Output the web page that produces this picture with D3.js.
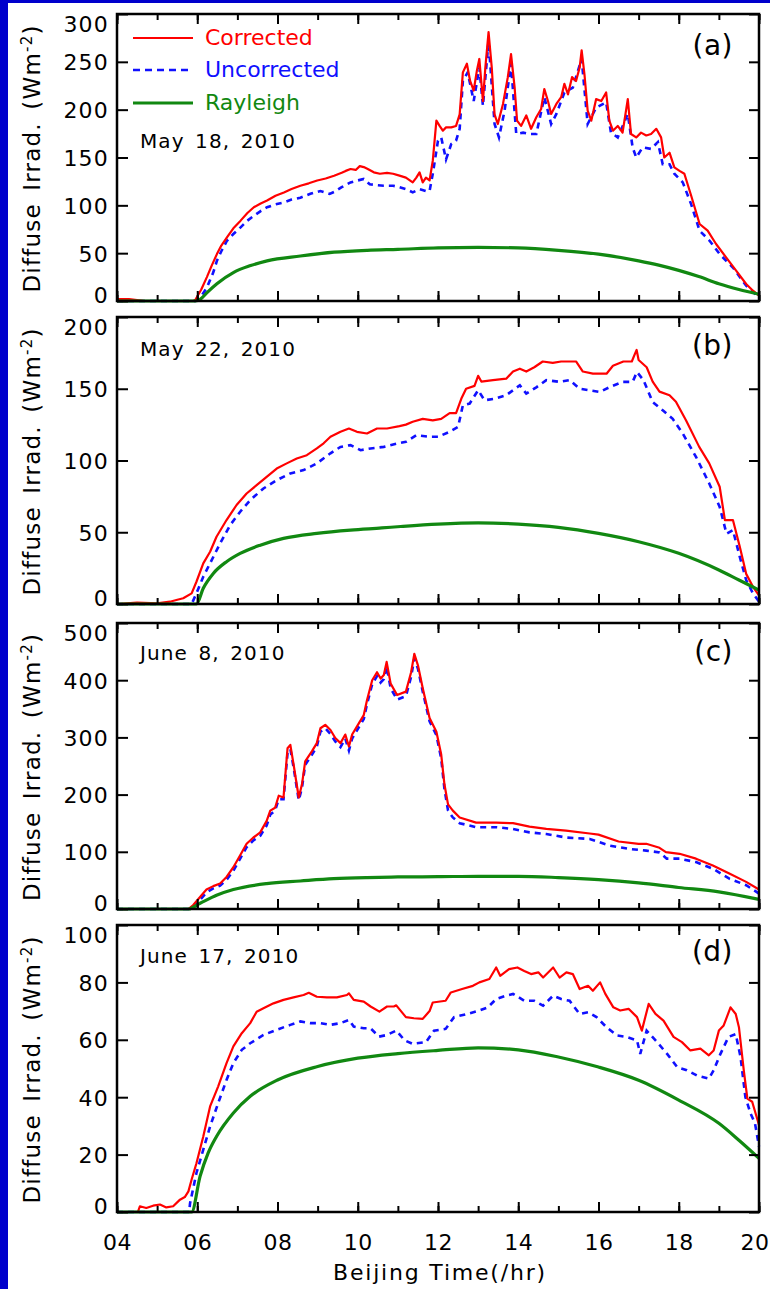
<!DOCTYPE html>
<html>
<head>
<meta charset="utf-8">
<script src="https://cdn.jsdelivr.net/npm/d3@7"></script>
<style>
  html, body { margin: 0; padding: 0; background: #ffffff; }
  svg { display: block; }
  text { font-family: "DejaVu Sans", "Liberation Sans", sans-serif; fill: #000; }
</style>
</head>
<body>
<svg id="chart" width="770" height="1289"></svg>
<script>
// ---- Diffuse irradiance, [Beijing hour, W m^-2] ----

// (a) May 18, 2010
const correctedA = [[4,2],[4.3,2],[4.5,1],[4.7,0],[5.9,0],[5.95,1],[6.1,12],[6.24,25],[6.36,37],[6.49,49],[6.6,58],[6.74,66.5],[6.9,76],[7.08,84],[7.25,92],[7.41,98],[7.58,102],[7.74,105],[7.95,110],[8.16,113.5],[8.35,117],[8.57,120.5],[8.78,123],[8.99,126],[9.2,128],[9.41,131],[9.6,134],[9.7,136],[9.82,138],[9.95,137],[10.05,141],[10.15,140],[10.25,138],[10.4,134.5],[10.55,133],[10.73,134],[10.88,133],[11.04,131],[11.2,129],[11.37,124],[11.46,129],[11.54,134.5],[11.62,124],[11.7,129],[11.79,126],[11.87,146.7],[11.96,188.5],[12.04,183],[12.12,178],[12.2,181.5],[12.33,181.5],[12.45,183],[12.54,195],[12.62,239],[12.72,248],[12.8,230],[12.89,220],[12.97,241],[13.03,253],[13.12,209],[13.18,244],[13.26,281],[13.34,244],[13.41,195],[13.49,185],[13.62,206],[13.74,234],[13.82,258],[13.91,223],[13.97,188.5],[14.07,183],[14.2,194],[14.32,180],[14.45,192],[14.57,200.7],[14.65,221.6],[14.74,209],[14.82,195.5],[14.95,206],[15.07,213],[15.15,227],[15.24,216],[15.34,234],[15.44,230],[15.53,244],[15.58,262],[15.65,237],[15.73,199],[15.82,188.5],[15.94,211],[16.07,209],[16.19,218],[16.27,188.5],[16.36,178],[16.48,183],[16.6,176],[16.73,211],[16.81,174.6],[16.94,171],[17.06,176],[17.19,173],[17.31,174.6],[17.44,180],[17.56,171],[17.64,150],[17.77,155],[17.89,139.7],[18.02,136],[18.14,133],[18.31,110],[18.52,80.5],[18.72,73.5],[18.93,59.6],[19.18,45.6],[19.43,31.7],[19.68,17.8],[19.85,10.8],[20,5.6]];
const uncorrectedA = [[4,0],[5.95,0],[6.1,5],[6.24,14],[6.4,30],[6.49,42],[6.6,52],[6.74,63],[6.9,70],[7.08,77],[7.25,84],[7.41,89],[7.58,94],[7.74,98],[7.95,101],[8.16,103],[8.35,106],[8.57,108],[8.82,112],[9.07,115],[9.3,112],[9.41,114],[9.6,119],[9.82,124],[10.0,126],[10.15,127.5],[10.3,122],[10.5,121],[10.65,120.5],[10.88,120.5],[11.04,119],[11.2,117],[11.37,113.6],[11.54,117],[11.7,115],[11.79,115],[11.87,133],[12.0,167.6],[12.08,171],[12.2,148],[12.33,164],[12.45,167.6],[12.54,180],[12.62,230],[12.74,239],[12.89,209],[13.03,244],[13.12,204],[13.26,272],[13.41,185],[13.52,171],[13.66,199],[13.82,248],[13.95,174.6],[14.12,176],[14.28,174.6],[14.45,174.6],[14.65,213],[14.82,185],[14.95,195.5],[15.15,218],[15.36,223],[15.58,253],[15.73,185],[15.94,202],[16.19,207.7],[16.31,176],[16.48,171],[16.73,195.5],[16.85,160.6],[16.94,150],[17.1,160.6],[17.31,159],[17.48,166],[17.6,143],[17.77,143],[17.89,133],[18.1,124],[18.31,101],[18.52,73.5],[18.77,63],[19.02,49],[19.35,35],[19.68,16],[20,3.8]];
const rayleighA = [[4,0],[5.95,0],[6.08,2],[6.25,9],[6.49,18],[6.91,30],[7.33,37],[7.74,42],[8.57,47],[9.41,51],[10.24,53],[11,54],[12,55.5],[13,56],[14,55.5],[15,53],[16,49],[17,42],[17.5,37.5],[18,32],[18.5,25.5],[19,18],[19.5,12],[20,7]];

// (b) May 22, 2010
const correctedB = [[4,0],[4.5,1],[5.0,0.5],[5.32,1.6],[5.48,2.8],[5.65,4],[5.86,7.4],[5.98,15.5],[6.15,28.3],[6.32,36.4],[6.48,46.9],[6.73,58.5],[6.98,69],[7.23,77],[7.48,82.8],[7.73,88.6],[7.98,94.4],[8.23,98],[8.48,101.4],[8.73,103.7],[8.98,108.4],[9.15,112],[9.32,116.5],[9.57,120],[9.78,122.3],[9.98,120],[10.23,118.8],[10.48,122.3],[10.73,122.3],[11.04,124],[11.2,125],[11.37,127],[11.62,129],[11.87,128],[12.08,129],[12.29,133],[12.45,133],[12.58,143],[12.7,150],[12.91,152],[13.0,159],[13.08,155],[13.37,156],[13.7,157],[13.87,162],[14.04,164],[14.2,162],[14.4,165],[14.61,169],[14.86,168],[15.07,169],[15.28,169],[15.44,169],[15.61,162],[15.86,160.5],[16.2,160.5],[16.36,166],[16.62,169],[16.83,169],[16.91,174.5],[16.95,177],[17.0,170],[17.2,165],[17.35,155],[17.52,148],[17.77,145.5],[17.93,141],[18.18,128],[18.51,109.5],[18.76,98],[19.02,81.7],[19.15,58.5],[19.35,58.5],[19.52,40],[19.68,21],[19.85,12],[20,6]];
const uncorrectedB = [[4,0],[5.86,0],[5.98,7.4],[6.15,19],[6.36,30.6],[6.57,42.2],[6.82,55],[7.07,64.3],[7.32,72.4],[7.65,80.5],[7.98,86.3],[8.32,91],[8.65,93.3],[8.98,98],[9.32,105],[9.57,109.5],[9.82,110.7],[10.07,107.2],[10.32,108.4],[10.65,109.5],[10.98,111.8],[11.2,113],[11.46,117.6],[11.79,116.5],[12.0,116.5],[12.29,120],[12.5,123.4],[12.62,138.5],[12.79,139.7],[13.0,149],[13.16,142],[13.41,143],[13.7,145.5],[14.04,152.4],[14.2,146.6],[14.45,151],[14.7,156],[15.03,154.8],[15.28,156],[15.53,150],[15.74,149],[16.03,147.8],[16.27,151],[16.6,154.8],[16.85,154.8],[16.96,161.7],[17.12,156],[17.35,140.8],[17.6,135],[17.85,129],[18.1,118.8],[18.43,102.5],[18.76,84],[19.02,67.7],[19.19,49],[19.35,51.5],[19.52,33],[19.68,16.7],[19.85,7.4],[20,1.6]];
const rayleighB = [[4,0],[5.98,0],[6.15,11],[6.4,21.3],[6.73,29.5],[7.07,35.3],[7.57,41],[8.15,45.7],[8.98,49.2],[9.82,51.5],[10.6,53],[11.07,54],[12,55.7],[13,56.6],[14,55.7],[15,53.4],[16,49.2],[17,43.4],[18,35.3],[19,23.7],[19.5,16.7],[20,9.7]];

// (c) June 8, 2010
const correctedC = [[4,0],[5.78,0],[5.9,7],[6.07,21],[6.23,34],[6.4,40],[6.57,44.5],[6.73,56],[6.9,73],[7.07,94],[7.23,114],[7.4,125],[7.57,134],[7.73,154],[7.82,172],[7.94,177],[8.03,198],[8.15,195],[8.25,281],[8.32,287],[8.4,253],[8.53,195],[8.61,218],[8.69,258],[8.86,276],[8.98,290],[9.07,316],[9.19,322],[9.32,313],[9.44,299],[9.57,290],[9.69,305],[9.78,284],[9.86,305],[10.03,325],[10.15,339],[10.23,365],[10.36,400],[10.48,414],[10.57,403],[10.65,409],[10.72,432],[10.82,394],[10.98,374],[11.2,380],[11.33,414],[11.41,446],[11.5,426],[11.62,386],[11.79,334],[11.96,310],[12.08,270],[12.16,218],[12.25,183],[12.37,172],[12.54,160],[12.95,151],[13.45,151],[13.87,150],[14.28,144],[14.7,140],[15.19,137],[15.78,132],[16.0,130],[16.5,118],[17.0,114],[17.19,114],[17.52,107],[17.68,99.4],[18.02,96.5],[18.43,88],[18.85,76],[19.26,62],[19.68,47.4],[20,34]];
const uncorrectedC = [[4,0],[5.8,0],[5.92,4],[6.07,16],[6.23,29],[6.4,36],[6.57,41],[6.73,51],[6.9,67],[7.07,88],[7.23,108],[7.4,120],[7.57,128],[7.73,146],[7.82,165],[7.94,172],[8.03,192],[8.15,192],[8.25,272],[8.32,280],[8.4,248],[8.53,190],[8.61,212],[8.69,252],[8.86,270],[8.98,284],[9.07,310],[9.19,316],[9.32,306],[9.44,293],[9.57,283],[9.69,298],[9.78,277],[9.86,298],[10.03,318],[10.15,332],[10.23,358],[10.36,393],[10.48,407],[10.57,396],[10.65,402],[10.72,424],[10.82,386],[10.98,366],[11.2,372],[11.33,406],[11.41,438],[11.5,420],[11.62,380],[11.79,328],[11.96,304],[12.08,263],[12.16,210],[12.25,172],[12.37,160],[12.54,150],[12.95,143],[13.45,143],[13.87,140],[14.28,134],[14.7,131],[15.19,125],[15.78,122.5],[16.27,111],[16.77,105],[17.19,102],[17.52,99],[17.7,88],[18.02,88],[18.43,82],[18.85,70.5],[19.26,53],[19.68,41.6],[20,27]];
const rayleighC = [[4,0],[5.78,0],[6.07,10],[6.48,24],[6.9,34],[7.73,44.5],[8.57,49],[9.4,53],[10.23,55],[11,56],[12,56.5],[13,57.2],[14,57.2],[15,55],[16,51.4],[17,45.7],[18,37.6],[19,30],[20,16.8]];

// (d) June 17, 2010
const correctedD = [[4,0],[4.52,0],[4.57,2],[4.73,1.4],[4.9,2.2],[5.07,2.6],[5.23,1.6],[5.4,2],[5.57,4.3],[5.69,5.2],[5.78,7.2],[5.86,11.3],[5.98,17],[6.15,26.3],[6.32,36.8],[6.52,43.7],[6.73,51.9],[6.9,57.7],[7.11,62.3],[7.32,65.8],[7.48,69.8],[7.65,71],[7.9,72.7],[8.15,73.9],[8.4,74.8],[8.65,75.6],[8.78,76.4],[8.98,75],[9.23,74.8],[9.48,74.8],[9.73,75.6],[9.78,76.2],[9.9,73.9],[10.15,73.3],[10.32,71.6],[10.54,69.8],[10.73,71.6],[10.9,71.6],[10.96,72],[11.2,67.9],[11.4,67.5],[11.62,67.3],[11.79,70],[11.87,73],[12.19,73.6],[12.32,76.5],[12.6,77.7],[12.87,78.8],[13.03,80],[13.28,81.2],[13.45,85.2],[13.55,82.3],[13.77,84.6],[13.98,85.2],[14.15,84],[14.32,82.9],[14.5,83.5],[14.62,81.7],[14.87,85.2],[15.03,81.7],[15.2,83.5],[15.36,82.9],[15.53,77.7],[15.74,78.8],[15.86,77.1],[16.04,80],[16.17,76],[16.37,71.3],[16.54,70.2],[16.75,70.8],[16.96,67.9],[17.08,63.2],[17.25,72.5],[17.42,69],[17.62,66.7],[17.87,61],[18.08,59.2],[18.29,56.3],[18.54,56.9],[18.75,54.6],[18.87,56.3],[19.0,63.2],[19.12,65],[19.29,71.3],[19.42,69],[19.5,64.4],[19.62,49.4],[19.71,39.5],[19.83,38.4],[20,30.3]];
const uncorrectedD = [[4,0],[5.8,0],[5.82,3],[5.98,13.6],[6.15,21.7],[6.32,29.8],[6.52,37.9],[6.73,46],[6.9,51.9],[7.11,56.5],[7.32,58.8],[7.65,61.7],[7.98,63.5],[8.32,65.2],[8.57,66.4],[8.82,65.8],[9.07,65.8],[9.32,65.2],[9.57,65.8],[9.78,66.9],[9.9,64.6],[10.15,64],[10.32,64],[10.53,61.1],[10.73,61.7],[10.96,63.2],[11.17,59.8],[11.37,58.6],[11.7,59.2],[11.9,63.2],[12.19,63.8],[12.4,67.9],[12.73,69],[13.03,70.2],[13.24,71.3],[13.45,74.2],[13.7,75.4],[13.87,76],[14.15,73.6],[14.4,73.6],[14.62,71.9],[14.87,75.4],[15.07,74.2],[15.28,73.6],[15.53,69],[15.74,69.6],[15.95,67.9],[16.2,64.4],[16.46,61.5],[16.7,61],[16.96,59.8],[17.04,55.1],[17.2,63.2],[17.46,59.2],[17.71,55.1],[17.96,50.5],[18.2,49.4],[18.45,47.6],[18.75,46.5],[18.87,49.4],[19.04,55.1],[19.24,61],[19.42,62],[19.54,54],[19.66,40.1],[19.79,34.3],[19.9,30.9],[20,22.8]];
const rayleighD = [[4,0],[5.86,0],[6.07,12.4],[6.27,20.5],[6.48,26.3],[6.9,34.5],[7.32,40.3],[8,46],[9,50.7],[10,53.6],[11,55.2],[12,56.3],[13,57.2],[14,56.5],[15,54],[16,50.5],[17,45.9],[18,39],[19,30.9],[19.5,25],[20,18.7]];

// ---- labels and ticks ----
const panelDates = ["May 18, 2010", "May 22, 2010", "June 8, 2010", "June 17, 2010"];
const panelTags = ["(a)", "(b)", "(c)", "(d)"];
const yTicksA = [0, 50, 100, 150, 200, 250, 300];
const yTicksB = [0, 50, 100, 150, 200];
const yTicksC = [0, 100, 200, 300, 400, 500];
const yTicksD = [0, 20, 40, 60, 80, 100];
const hourTicks = [4, 5, 6, 7, 8, 9, 10, 11, 12, 13, 14, 15, 16, 17, 18, 19, 20];
const hourLabelTicks = [4, 6, 8, 10, 12, 14, 16, 18, 20];
const hourLabels = ["04", "06", "08", "10", "12", "14", "16", "18", "20"];
const seriesNames = ["Corrected", "Uncorrected", "Rayleigh"];
const xTitle = "Beijing Time(/hr)";

// ---- styling ----
const colors = { corrected: "#ff0000", uncorrected: "#1010ff", rayleigh: "#118811" };
const plotLeft = 117, plotRight = 759;
const layout = [
  { top: 14,  bottom: 301,  dateY: 148, tagY: 55 },
  { top: 317, bottom: 604,  dateY: 356, tagY: 355 },
  { top: 623, bottom: 909,  dateY: 660, tagY: 661 },
  { top: 925, bottom: 1212, dateY: 963, tagY: 961 }
];

const panels = [
  { corrected: correctedA, uncorrected: uncorrectedA, rayleigh: rayleighA, ticks: yTicksA },
  { corrected: correctedB, uncorrected: uncorrectedB, rayleigh: rayleighB, ticks: yTicksB },
  { corrected: correctedC, uncorrected: uncorrectedC, rayleigh: rayleighC, ticks: yTicksC },
  { corrected: correctedD, uncorrected: uncorrectedD, rayleigh: rayleighD, ticks: yTicksD }
];

const svg = d3.select("#chart");

// page background with the blue slide border
svg.append("rect").attr("width", 770).attr("height", 1289).attr("fill", "#ffffff");
svg.append("rect").attr("x", 0).attr("y", 0).attr("width", 770).attr("height", 3).attr("fill", "#0000cc");
svg.append("rect").attr("x", 0).attr("y", 0).attr("width", 8).attr("height", 1289).attr("fill", "#0000cc");

const x = d3.scaleLinear().domain([4, 20]).range([plotLeft, plotRight]);

panels.forEach((p, i) => {
  const L = layout[i];
  const yMax = d3.max(p.ticks);
  const y = d3.scaleLinear().domain([0, yMax]).range([L.bottom, L.top]);
  const g = svg.append("g").attr("class", "panel");

  const line = d3.line().x(d => x(d[0])).y(d => y(d[1]));
  const smooth = d3.line().x(d => x(d[0])).y(d => y(d[1])).curve(d3.curveMonotoneX);

  g.append("path").datum(p.uncorrected).attr("d", line)
    .attr("fill", "none").attr("stroke", colors.uncorrected)
    .attr("stroke-width", 2.6).attr("stroke-dasharray", "6,5");
  g.append("path").datum(p.corrected).attr("d", line)
    .attr("fill", "none").attr("stroke", colors.corrected)
    .attr("stroke-width", 2.2).attr("stroke-linejoin", "round");
  g.append("path").datum(p.rayleigh).attr("d", smooth)
    .attr("fill", "none").attr("stroke", colors.rayleigh).attr("stroke-width", 3.2);

  // left axis with labels, ticks pointing into the plot
  const yl = g.append("g").attr("transform", `translate(${plotLeft},0)`)
    .call(d3.axisLeft(y).tickValues(p.ticks).tickSize(-11).tickPadding(8).tickFormat(d3.format("d")));
  // right axis, ticks only
  const yr = g.append("g").attr("transform", `translate(${plotRight},0)`)
    .call(d3.axisRight(y).tickValues(p.ticks).tickSize(-10).tickFormat(""));
  // top axis: hourly minor ticks and two-hour major ticks
  const xtMinor = g.append("g").attr("transform", `translate(0,${L.top})`)
    .call(d3.axisBottom(x).tickValues(hourTicks).tickSize(6).tickFormat(""));
  const xtMajor = g.append("g").attr("transform", `translate(0,${L.top})`)
    .call(d3.axisBottom(x).tickValues(hourLabelTicks).tickSize(10).tickFormat(""));
  // bottom axis
  const xbMinor = g.append("g").attr("transform", `translate(0,${L.bottom})`)
    .call(d3.axisBottom(x).tickValues(hourTicks).tickSize(-6).tickFormat(""));
  const last = i === panels.length - 1;
  const xbMajor = g.append("g").attr("transform", `translate(0,${L.bottom})`)
    .call(d3.axisBottom(x).tickValues(hourLabelTicks).tickSize(-10).tickPadding(22)
      .tickFormat(last ? (d => hourLabels[hourLabelTicks.indexOf(d)]) : ""));

  [yl, yr, xtMinor, xtMajor, xbMinor, xbMajor].forEach(a => {
    a.select(".domain").remove();
    a.selectAll(".tick line").attr("stroke", "#000").attr("stroke-width", 2);
    a.selectAll(".tick text").attr("font-family", "DejaVu Sans").attr("font-size", 22)
      .attr("fill", "#000");
  });
  yl.selectAll(".tick text").attr("font-size", 22).attr("letter-spacing", 1.2)
    .attr("dy", d => d === yMax ? "0.78em" : d === 0 ? "0.05em" : "0.36em");
  xbMajor.selectAll(".tick text").attr("letter-spacing", 0.5);
  // the rightmost hour label sits against the page edge
  xbMajor.selectAll(".tick text").filter(d => d === 20)
    .attr("text-anchor", "end").attr("x", 769 - x(20));

  // frame
  g.append("rect").attr("x", plotLeft).attr("y", L.top)
    .attr("width", plotRight - plotLeft).attr("height", L.bottom - L.top)
    .attr("fill", "none").attr("stroke", "#000").attr("stroke-width", 2.5);

  // date and panel tag
  g.append("text").attr("x", 140).attr("y", L.dateY)
    .attr("font-size", 20).attr("letter-spacing", 1.1).attr("word-spacing", 3)
    .text(panelDates[i]);
  g.append("text").attr("x", 733).attr("y", L.tagY).attr("text-anchor", "end")
    .attr("font-size", 28).attr("letter-spacing", 0.5)
    .text(panelTags[i]);

  // y title
  const yt = g.append("text")
    .attr("transform", `translate(40,${(L.top + L.bottom) / 2 + 1}) rotate(-90)`)
    .attr("text-anchor", "middle").attr("font-size", 23).attr("letter-spacing", 1.2)
    .attr("word-spacing", 4);
  yt.append("tspan").text("Diffuse Irrad. (Wm");
  yt.append("tspan").attr("font-size", 15).attr("baseline-shift", "55%").text("-2");
  yt.append("tspan").text(")");
});

// legend in panel (a)
const legendRows = [
  { name: seriesNames[0], color: colors.corrected, width: 2.2, dash: null, y: 38, ty: 45 },
  { name: seriesNames[1], color: colors.uncorrected, width: 2.6, dash: "7,5", y: 70, ty: 77 },
  { name: seriesNames[2], color: colors.rayleigh, width: 3.2, dash: null, y: 103, ty: 110 }
];
const legend = svg.append("g").attr("class", "legend");
legendRows.forEach(r => {
  legend.append("line").attr("x1", 133).attr("x2", 193).attr("y1", r.y).attr("y2", r.y)
    .attr("stroke", r.color).attr("stroke-width", r.width)
    .attr("stroke-dasharray", r.dash);
  legend.append("text").attr("x", 205).attr("y", r.ty).attr("font-size", 22)
    .attr("fill", r.color).style("fill", r.color).text(r.name);
});

// x title
svg.append("text").attr("x", 440).attr("y", 1280).attr("text-anchor", "middle")
  .attr("font-size", 22).attr("letter-spacing", 1.8).text(xTitle);
</script>
</body>
</html>
